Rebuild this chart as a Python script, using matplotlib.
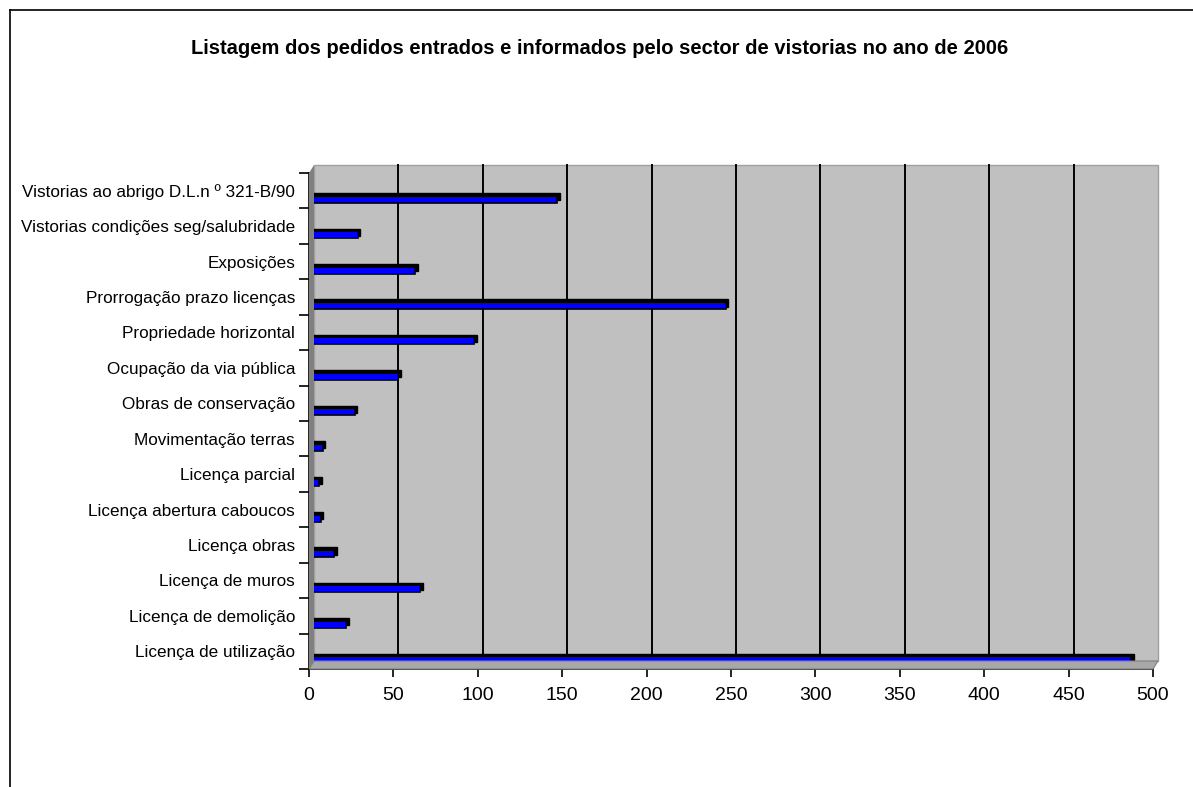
import matplotlib
matplotlib.use("Agg")
import matplotlib.pyplot as plt
import matplotlib.transforms as mtransforms
from matplotlib.patches import Rectangle, Polygon
from matplotlib.lines import Line2D
import numpy as np

plt.rcParams['font.family'] = ['Liberation Sans', 'DejaVu Sans']

title = "Listagem dos pedidos entrados e informados pelo sector de vistorias no ano de 2006"
categories = [
    "Vistorias ao abrigo D.L.n º 321-B/90",
    "Vistorias condições seg/salubridade",
    "Exposições",
    "Prorrogação prazo licenças",
    "Propriedade horizontal",
    "Ocupação da via pública",
    "Obras de conservação",
    "Movimentação terras",
    "Licença parcial",
    "Licença abertura caboucos",
    "Licença obras",
    "Licença de muros",
    "Licença de demolição",
    "Licença de utilização",
]
values = [147, 29, 63, 247, 98, 53, 27, 8, 6, 7, 15, 66, 22, 487]
xticks = [0, 50, 100, 150, 200, 250, 300, 350, 400, 450, 500]

W, H = 1193, 787
fig = plt.figure(figsize=(W / 100, H / 100), dpi=100)
fig.patch.set_facecolor('white')

# axes placement (pixels)
x0, x1 = 309, 1153
ytop, ybot = 173, 669
ax = fig.add_axes([x0 / W, 1 - ybot / H, (x1 - x0) / W, (ybot - ytop) / H])
ax.set_facecolor('none')

n = len(categories)
pos = np.arange(n)[::-1]  # first category at top
ax.set_xlim(0, 500)
ax.set_ylim(-0.5, n - 0.5)

dx, dy = 5, 8  # 3D depth offset in pixels
depth = mtransforms.ScaledTranslation(dx / 100, dy / 100, fig.dpi_scale_trans)

# back wall
wall = Rectangle((0, 0), 1, 1, transform=ax.transAxes + depth, facecolor='#C0C0C0',
                 edgecolor='#A0A0A0', lw=1, zorder=0, clip_on=False)
ax.add_patch(wall)
# left side wall (darker)
px0 = ax.transAxes.transform((0, 0))
px1 = ax.transAxes.transform((0, 1))
left_wall = Polygon([px0, px1, px1 + [dx, dy], px0 + [dx, dy]], closed=True,
                    transform=None, facecolor='#808080', edgecolor='none', zorder=0.5)
fig.patches.append(left_wall)
# floor
pb1 = ax.transAxes.transform((1, 0))
floor = Polygon([px0, pb1, pb1 + [dx, dy], px0 + [dx, dy]], closed=True,
                transform=None, facecolor='#A8A8A8', edgecolor='#808080', lw=0.8, zorder=0.5)
fig.patches.append(floor)

# gridlines on back wall
for xv in xticks[1:-1]:
    ax.plot([xv, xv], [0, 1], transform=mtransforms.blended_transform_factory(ax.transData, ax.transAxes) + depth,
            color='black', lw=1.4, zorder=1, clip_on=False)

# bars: shadow (3D top/side) then front face
bar_off = mtransforms.ScaledTranslation(0, -8.5 / 100, fig.dpi_scale_trans)
shadow_off = mtransforms.ScaledTranslation(2.5 / 100, 2.5 / 100, fig.dpi_scale_trans)
h = 0.2
ax.barh(pos, values, height=h, color='black', edgecolor='black', lw=1,
        transform=ax.transData + bar_off + shadow_off, zorder=3)
ax.barh(pos, values, height=h, color='#0000FF', edgecolor='black', lw=1.2,
        transform=ax.transData + bar_off, zorder=4)

# axes styling
for s in ['top', 'right']:
    ax.spines[s].set_visible(False)
for s in ['left', 'bottom']:
    ax.spines[s].set_color('black')
    ax.spines[s].set_linewidth(1.2)
    ax.spines[s].set_zorder(5)

ax.set_xticks(xticks)
ax.set_xticklabels([str(v) for v in xticks], fontsize=14)
ax.tick_params(axis='x', direction='out', length=6, width=1.2, pad=7, colors='black')

ax.set_yticks(pos)
ax.set_yticklabels(categories, fontsize=12.3)
ax.tick_params(axis='y', which='major', length=0, pad=10)
ax.set_yticks(np.arange(-0.5, n, 1.0), minor=True)
ax.tick_params(axis='y', which='minor', direction='out', length=7, width=1.2)
ax.grid(False)

fig.text(600 / W, 1 - 49 / H, title, ha='center', va='center', fontsize=14.5, fontweight='bold')

# outer chart border (top and left visible)
fig.add_artist(Line2D([10 / W, 10 / W], [0, 1 - 10 / H], transform=fig.transFigure, color='black', lw=1.2))
fig.add_artist(Line2D([10 / W, 1], [1 - 10 / H, 1 - 10 / H], transform=fig.transFigure, color='black', lw=1.2))

fig.savefig('out.png', dpi=100)
